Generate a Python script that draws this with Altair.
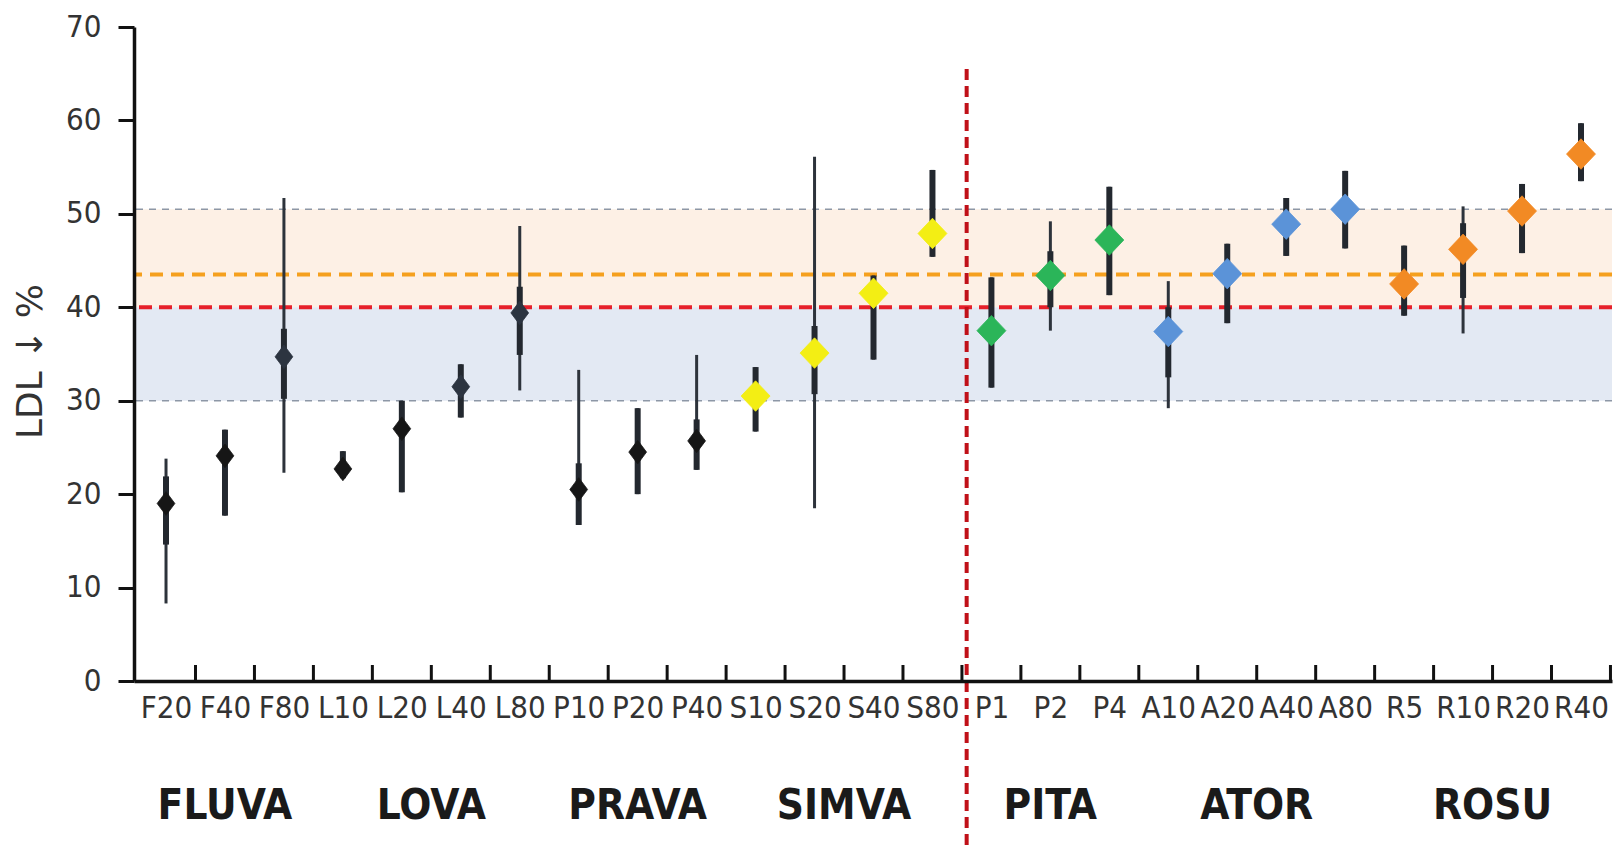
import altair as alt
import pandas as pd

# ---------------- data ----------------
labels = ["F20", "F40", "F80", "L10", "L20", "L40", "L80", "P10", "P20", "P40",
          "S10", "S20", "S40", "S80", "P1", "P2", "P4", "A10", "A20", "A40",
          "A80", "R5", "R10", "R20", "R40"]
groups = (["FLUVA"] * 3 + ["LOVA"] * 4 + ["PRAVA"] * 3 + ["SIMVA"] * 4 +
          ["PITA"] * 3 + ["ATOR"] * 4 + ["ROSU"] * 4)
means = [19.0, 24.1, 34.7, 22.7, 27.0, 31.5, 39.4, 20.5, 24.5, 25.7,
         30.5, 35.1, 41.5, 47.9, 37.5, 43.4, 47.2, 37.4, 43.6, 48.9,
         50.5, 42.5, 46.2, 50.3, 56.4]
low = [8.3, 17.7, 22.3, 21.7, 20.2, 28.2, 31.1, 16.7, 20.0, 22.6,
       26.7, 18.5, 34.4, 45.4, 31.4, 37.5, 41.3, 29.2, 38.3, 45.5,
       46.3, 39.1, 37.2, 45.8, 53.5]
high = [23.8, 26.9, 51.7, 24.6, 30.0, 33.9, 48.7, 33.3, 29.2, 34.9,
        33.6, 56.1, 43.4, 54.7, 43.2, 49.2, 52.9, 42.8, 46.8, 51.7,
        54.6, 46.6, 50.8, 53.2, 59.7]
inner_low = [14.6, 17.7, 30.2, 21.7, 20.2, 28.2, 34.9, 16.7, 20.0, 22.6,
             26.7, 30.7, 34.4, 45.4, 31.4, 40.0, 41.3, 32.5, 38.3, 45.5,
             46.3, 39.1, 41.0, 45.8, 53.5]
inner_high = [21.9, 26.9, 37.7, 24.6, 30.0, 33.9, 42.2, 23.3, 29.2, 28.0,
              33.6, 38.0, 43.4, 54.7, 43.2, 46.0, 52.9, 40.0, 46.8, 51.7,
              54.6, 46.6, 49.0, 53.2, 59.7]

group_names = ["FLUVA", "LOVA", "PRAVA", "SIMVA", "PITA", "ATOR", "ROSU"]

zone_names = ["40–50%", "30–40%"]
zone_low = [40, 30]
zone_high = [50.5, 40]
limit_gray = [50.5, 30]
limit_orange = [43.5]
limit_red = [40]
divider_x = [13.58]
divider_top = [65.5]
divider_bottom = [-18]
group_label_y = -13.4

# ---------------- styles ----------------
group_fill = {"FLUVA": "#161616", "LOVA": "#161616", "PRAVA": "#161616",
              "SIMVA": "#f3ee14", "PITA": "#2bb559", "ATOR": "#5b93d8",
              "ROSU": "#f28a24"}
slate = {"F80": "#2c3440", "L40": "#2c3440", "L80": "#2c3440"}
NARROW = "Liberation Sans Narrow, DejaVu Sans Condensed, Roboto, sans-serif"

idx = list(range(len(labels)))
df = pd.DataFrame({"idx": idx, "label": labels, "group": groups, "mean": means,
                   "lo": low, "hi": high, "ilo": inner_low, "ihi": inner_high})
df["fill"] = [slate.get(l, group_fill[g]) for l, g in zip(labels, groups)]
df["kind"] = ["dark" if group_fill[g] == "#161616" else "color" for g in groups]

ticks_df = pd.DataFrame({"b": [i + 0.5 for i in idx]})
zones_df = pd.DataFrame({"zone": zone_names, "lo": zone_low, "hi": zone_high})
gray_df = pd.DataFrame({"v": limit_gray})
orange_df = pd.DataFrame({"v": limit_orange})
red_df = pd.DataFrame({"v": limit_red})
div_df = pd.DataFrame({"x": divider_x, "top": divider_top, "bot": divider_bottom})
grp_df = (pd.DataFrame({"group": groups, "idx": idx})
          .groupby("group", sort=False)["idx"].mean().reindex(group_names)
          .reset_index())
grp_df["y"] = group_label_y

W, H = 1478, 654
xs = alt.Scale(domain=[-0.543, 24.526], nice=False, zero=False)
ys = alt.Scale(domain=[0, 70], nice=False, zero=False)

label_expr = "[" + ",".join("'%s'" % l for l in labels) + "][datum.value]"
x_axis = alt.Axis(values=idx, labelExpr=label_expr, ticks=False, grid=False,
                  domainColor="#111111", domainWidth=3.5, labelFont=NARROW,
                  labelFontSize=31, labelColor="#333333", labelPadding=12,
                  title=None, zindex=1, labelOverlap=False)
y_axis = alt.Axis(values=list(range(0, 71, 10)), grid=False, tickSize=16,
                  tickWidth=3, tickColor="#111111", domainColor="#111111",
                  domainWidth=3.5, labelFont=NARROW, labelFontSize=31,
                  labelColor="#333333", labelPadding=17, title="LDL ↓ %",
                  titleFont="DejaVu Sans", titleFontSize=36, titleFontWeight="normal",
                  titleColor="#333333", titleAngle=270, titleX=-104, titleY=334,
                  titleAlign="center", titleBaseline="middle", zindex=1)

zones = alt.Chart(zones_df).mark_rect().encode(
    y=alt.Y("lo:Q", scale=ys, axis=y_axis), y2="hi:Q",
    color=alt.Color("zone:N", scale=alt.Scale(domain=zone_names,
                    range=["#fdf0e5", "#e3e9f3"]), legend=None))

gray = alt.Chart(gray_df).mark_rule(color="#8d97a6", strokeWidth=1.6,
                                    strokeDash=[7, 6]).encode(
    y=alt.Y("v:Q", scale=ys, axis=y_axis))
orange = alt.Chart(orange_df).mark_rule(color="#f5a01e", strokeWidth=4,
                                        strokeDash=[13, 8]).encode(
    y=alt.Y("v:Q", scale=ys, axis=y_axis))
red = alt.Chart(red_df).mark_rule(color="#e6202a", strokeWidth=4,
                                  strokeDash=[13, 7]).encode(
    y=alt.Y("v:Q", scale=ys, axis=y_axis))

thin = alt.Chart(df).mark_rule(color="#2d333b", strokeWidth=3).encode(
    x=alt.X("idx:Q", scale=xs, axis=x_axis),
    y=alt.Y("lo:Q", scale=ys, axis=y_axis), y2="hi:Q")
thick = alt.Chart(df).mark_rule(color="#23282f", strokeWidth=6).encode(
    x=alt.X("idx:Q", scale=xs, axis=x_axis),
    y=alt.Y("ilo:Q", scale=ys, axis=y_axis), y2="ihi:Q")

diamonds = alt.Chart(df).mark_point(filled=True, opacity=1, strokeWidth=0.8).encode(
    x=alt.X("idx:Q", scale=xs, axis=x_axis),
    y=alt.Y("mean:Q", scale=ys, axis=y_axis),
    shape=alt.Shape("kind:N", scale=alt.Scale(domain=["dark", "color"],
                    range=["M0,-1L0.75,0L0,1L-0.75,0Z", "M0,-1L0.95,0L0,1L-0.95,0Z"]),
                    legend=None),
    size=alt.Size("kind:N", scale=alt.Scale(domain=["dark", "color"],
                  range=[560, 930]), legend=None),
    fill=alt.Fill("fill:N", scale=None),
    stroke=alt.Stroke("fill:N", scale=None))

xticks = alt.Chart(ticks_df).mark_rule(color="#111111", strokeWidth=3).encode(
    x=alt.X("b:Q", scale=xs, axis=x_axis),
    y=alt.datum(0, scale=ys, axis=y_axis), y2=alt.value(H - 16))

divider = alt.Chart(div_df).mark_rule(color="#c01018", strokeWidth=4,
                                      strokeDash=[11, 6]).encode(
    x=alt.X("x:Q", scale=xs, axis=x_axis),
    y=alt.Y("top:Q", scale=ys, axis=y_axis), y2="bot:Q")

grp_text = alt.Chart(grp_df).mark_text(font=NARROW, fontSize=42, fontWeight="bold",
                                       color="#1a1a1a", baseline="middle",
                                       align="center").encode(
    x=alt.X("idx:Q", scale=xs, axis=x_axis),
    y=alt.Y("y:Q", scale=ys, axis=y_axis),
    text="group:N")

chart = alt.layer(zones, gray, orange, red, thin, thick, diamonds, xticks,
                  divider, grp_text).properties(
    width=W, height=H,
    padding={"left": 4, "top": 3, "right": 0, "bottom": 0}
).configure(background="white").configure_view(stroke=None)

chart.save("out.html", embed_options={"renderer": "svg", "actions": False})
